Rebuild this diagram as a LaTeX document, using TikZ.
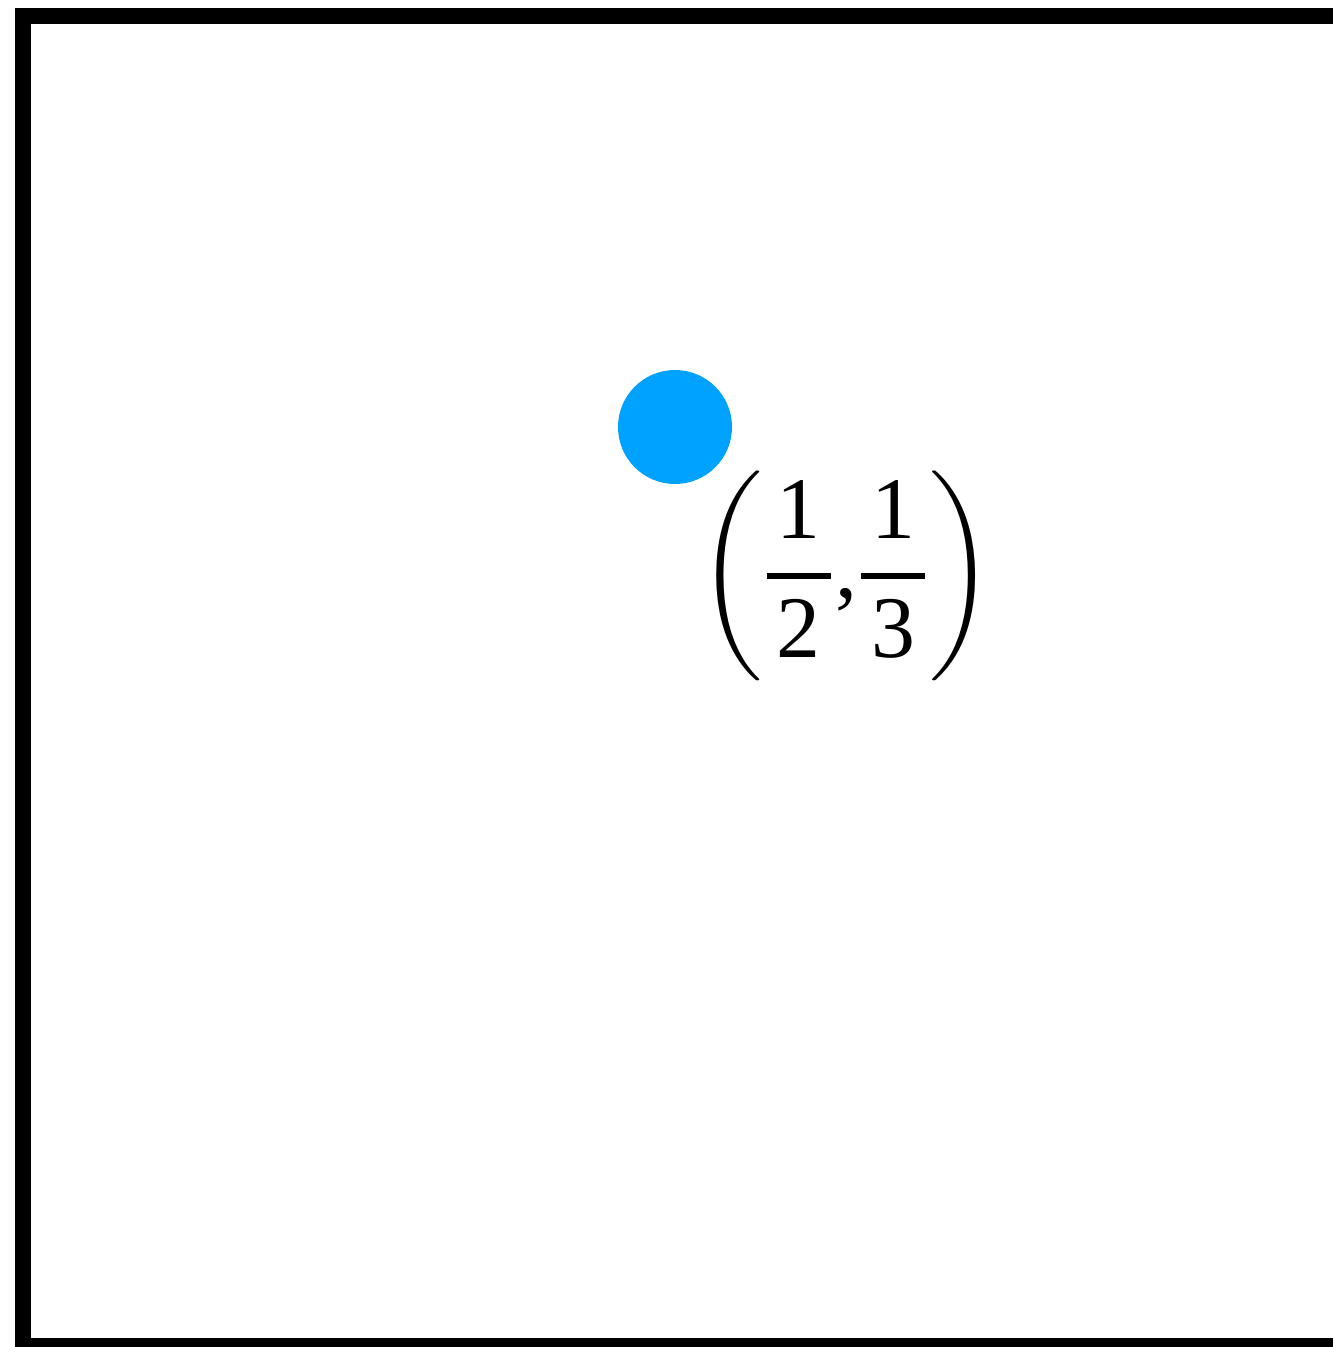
\documentclass[tikz,border=0pt]{standalone}
\usepackage{amsmath}
\usepackage{fontspec}
\setmainfont{Liberation Serif}
\definecolor{dotblue}{RGB}{0,162,255}
\newcommand{\barfrac}[2]{\genfrac{}{}{1.7pt}{0}{\text{#1}}{\hspace{0.1cm}\text{#2}\hspace{0.1cm}}}
\begin{document}
\begin{tikzpicture}
        \useasboundingbox (0,0) rectangle (13.33,-13.47);
        %% Frame
        \draw[line width=0.16cm] (0.23,-0.16) rectangle (13.45,-13.46);
        %% point and its label
        \node[circle,fill=dotblue,minimum size=1.14cm,inner sep=0pt] (P) at (6.75,-4.27) {};
        \node[inner sep=0pt,anchor=center,font=\fontsize{25}{30}\selectfont] (L) at (8.46,-5.76) {$\left(\barfrac{1}{2}\text{,}\barfrac{1}{3}\right)$};
    \end{tikzpicture}
\end{document}
